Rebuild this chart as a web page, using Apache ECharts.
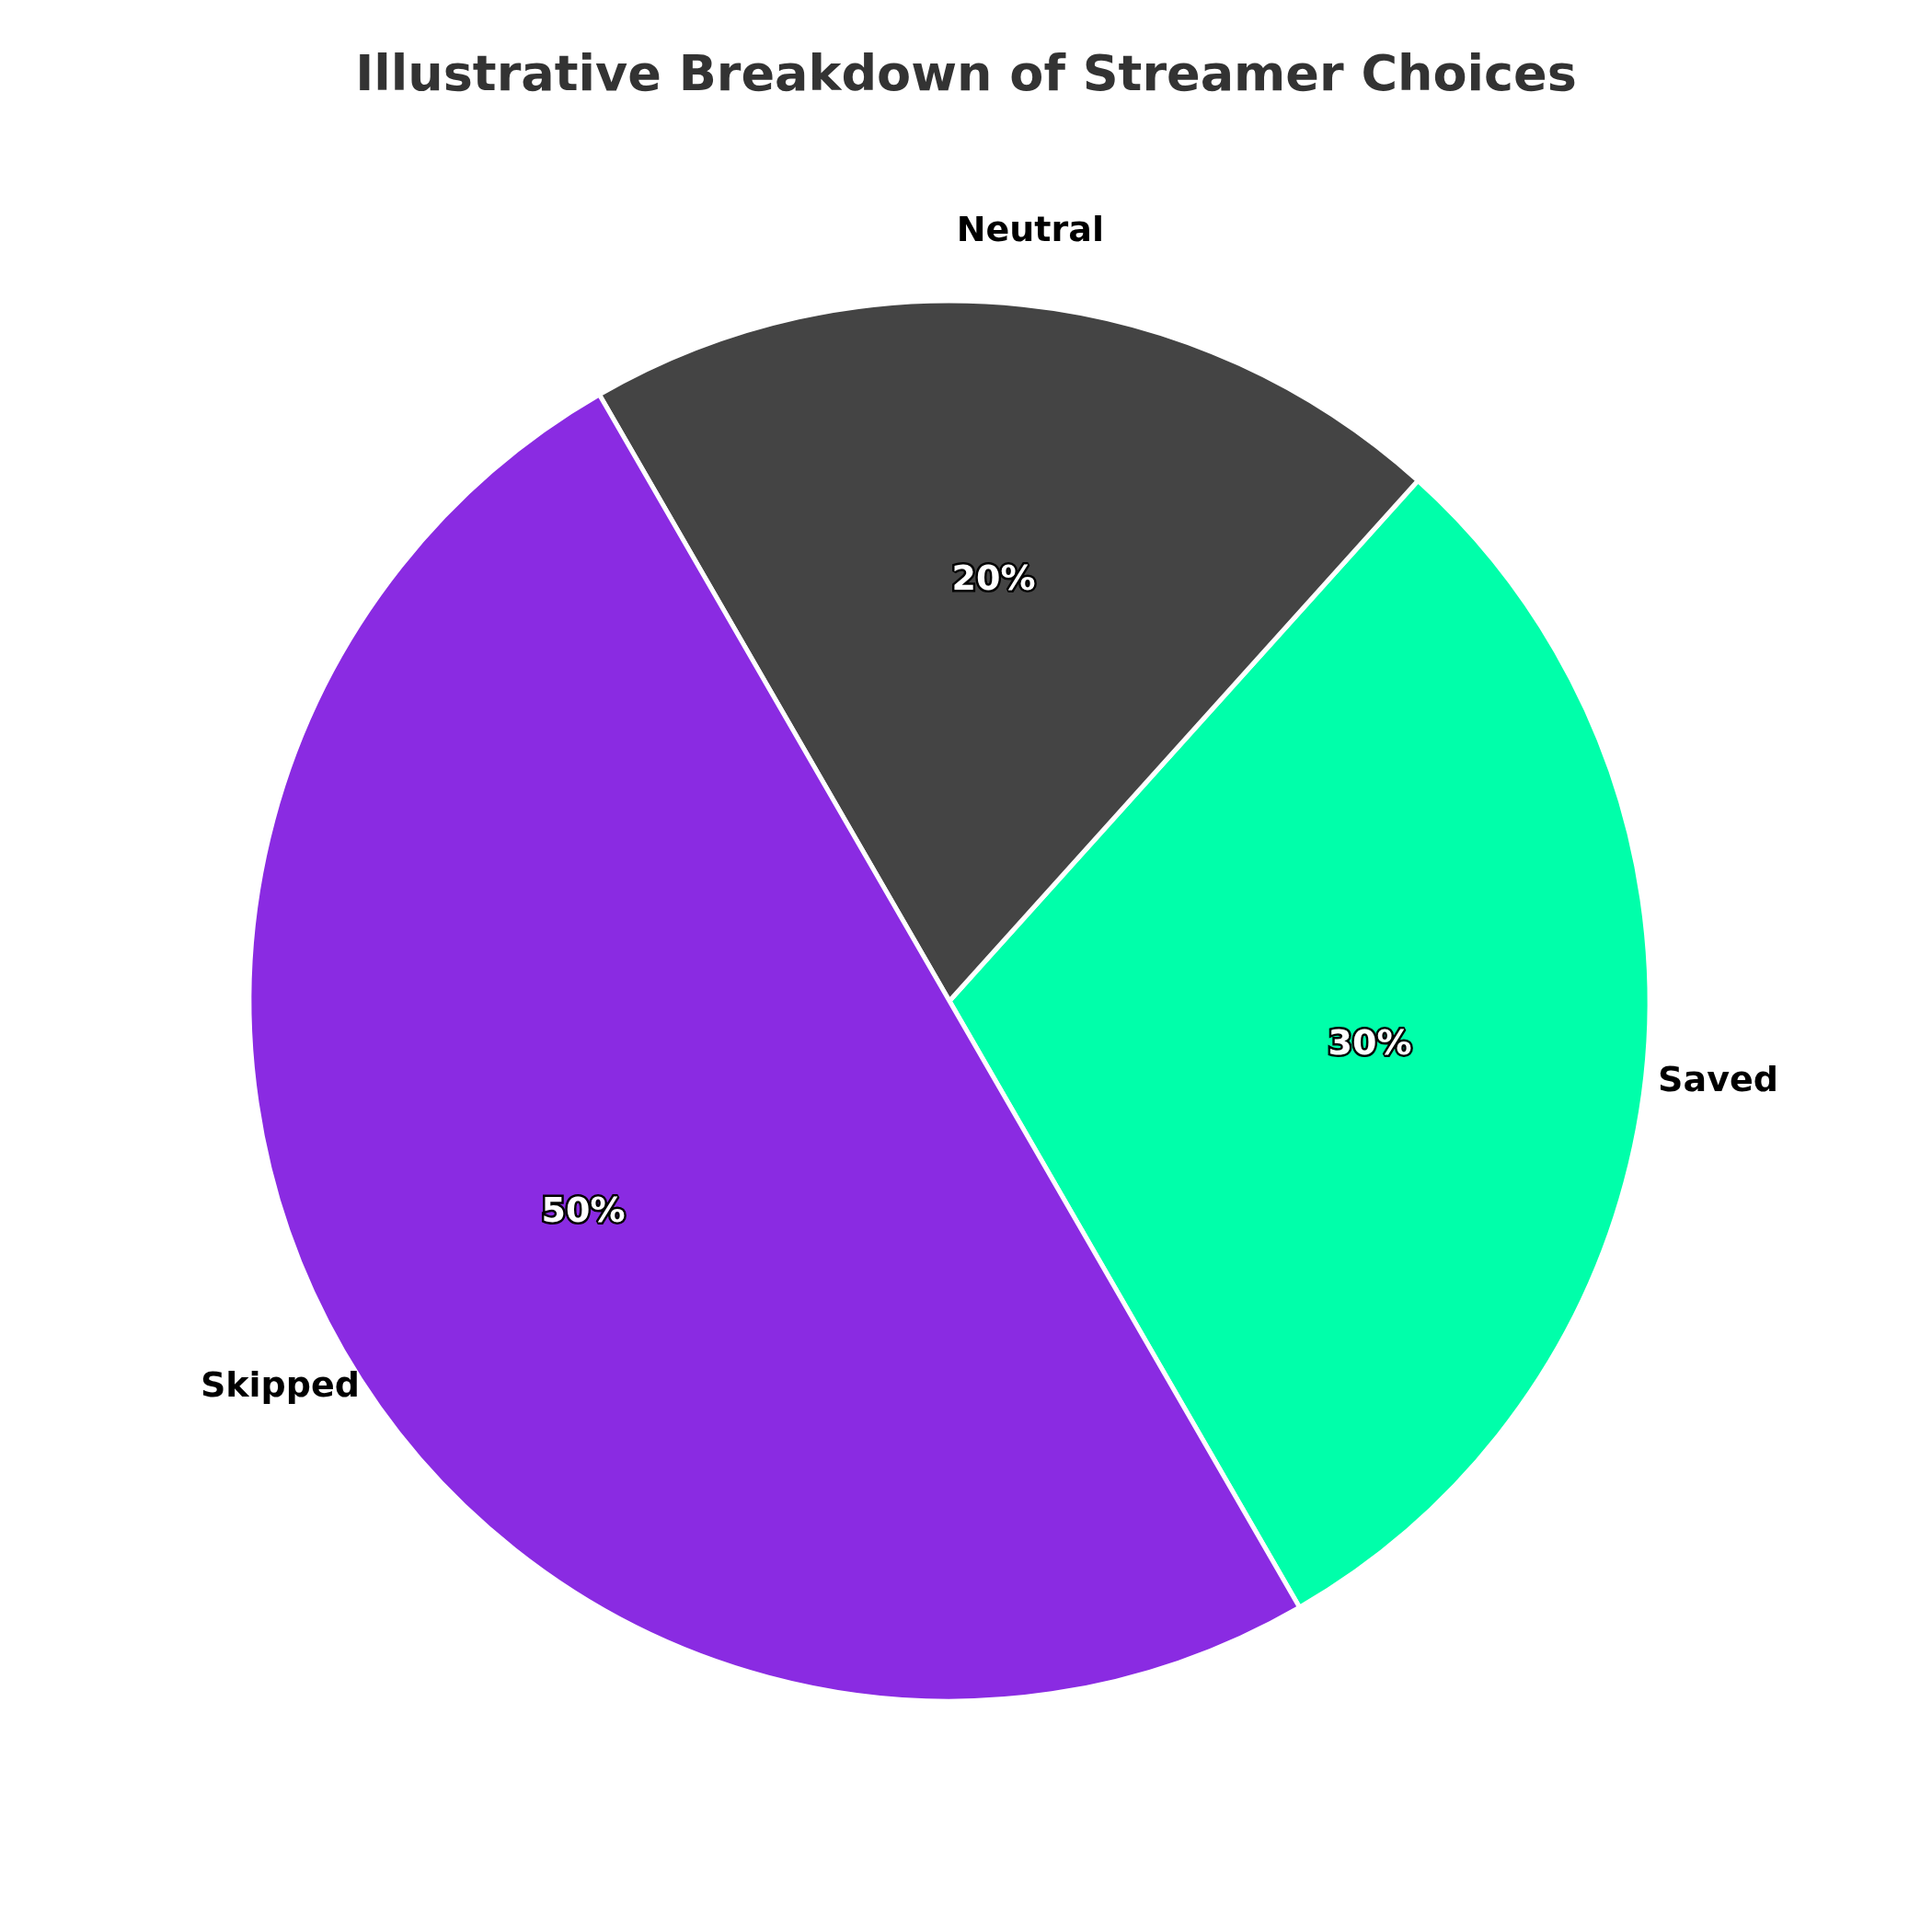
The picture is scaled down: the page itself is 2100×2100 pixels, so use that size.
<!DOCTYPE html>
<html><head><meta charset="utf-8">
<script src="https://cdn.jsdelivr.net/npm/echarts@6/dist/echarts.min.js"></script>
<style>html,body{margin:0;padding:0;background:#fff}#c{width:2100px;height:2100px}</style>
</head><body><div id="c"></div>
<script>
const categories = ["Saved", "Neutral", "Skipped"];
const values = [30, 20, 50];
const colors = ["#00FFAA", "#444444", "#8A2BE2"];
const aligns = ["left", "left", "right"];

const R = 761;
const center = [1032, 1088];
const chart = echarts.init(document.getElementById('c'));
const base = {type:'pie', center:center, clockwise:false, startAngle:-60, avoidLabelOverlap:false, labelLine:{show:false}, animation:false};
chart.setOption({
  title:{text:'Illustrative Breakdown of Streamer Choices', left:'center', top:52,
    textStyle:{fontFamily:'DejaVu Sans', fontSize:54, fontWeight:'bold', color:'#333333'}},
  series:[
    Object.assign({}, base, {
      radius:[0, R],
      itemStyle:{borderColor:'#fff', borderWidth:5},
      label:{show:false},
      data:categories.map((n,i)=>({name:n, value:values[i], itemStyle:{color:colors[i]}}))
    }),
    Object.assign({}, base, {
      radius:[0, R*1.2], silent:true,
      itemStyle:{color:'transparent'},
      label:{show:true, position:'inside', formatter:'{d}%', fontFamily:'DejaVu Sans', fontSize:38, fontWeight:'bold', color:'#fff', textBorderColor:'#000', textBorderWidth:5},
      data:categories.map((n,i)=>({name:n, value:values[i]}))
    }),
    Object.assign({}, base, {
      radius:[0, R*2.2], silent:true,
      itemStyle:{color:'transparent'},
      label:{show:true, position:'inside', formatter:'{b}', fontFamily:'DejaVu Sans', fontSize:38, fontWeight:'bold', color:'#000'},
      data:categories.map((n,i)=>({name:n, value:values[i], label:{align:aligns[i]}}))
    })
  ]
});
</script></body></html>
